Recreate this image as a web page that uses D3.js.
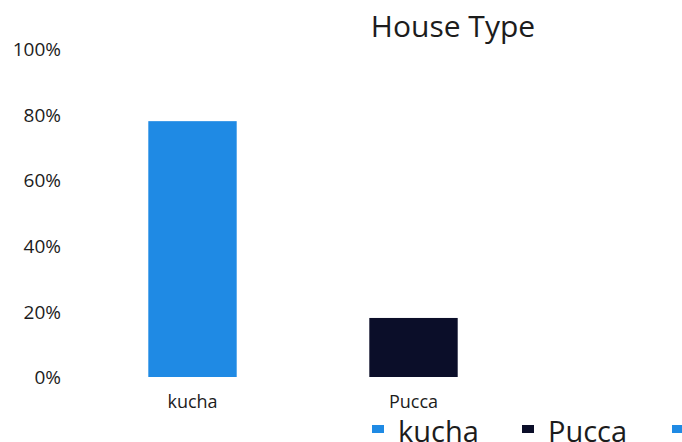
<!DOCTYPE html>
<html>
<head>
<meta charset="utf-8">
<script src="https://cdn.jsdelivr.net/npm/d3@7"></script>
<style>
  html, body { margin: 0; padding: 0; background: #ffffff; }
  svg { display: block; }
  text { font-family: "Open Sans", "Noto Sans", sans-serif; fill: #1c1c1c; }
</style>
</head>
<body>
<svg id="chart" width="682" height="442"></svg>
<script>
// House type shares
const categories = ["kucha", "Pucca"];
const shares = [0.78, 0.18];
const barColors = ["#1f8ae4", "#0b0e29"];
const yTicks = [0, 0.2, 0.4, 0.6, 0.8, 1.0];
const legendLabels = ["kucha", "Pucca", "Semi-pucca"];
const legendColors = ["#1f8ae4", "#0b0e29", "#1f8ae4"];
const title = "House Type";

const svg = d3.select("#chart");
const W = 682, H = 442;

svg.append("rect").attr("width", W).attr("height", H).attr("fill", "#ffffff");

const x = d3.scaleBand()
  .domain(categories)
  .range([82, 524])
  .paddingInner(0.6)
  .paddingOuter(0.3);

const y = d3.scaleLinear().domain([0, 1]).range([377, 49]);

// Title
svg.append("text")
  .attr("x", 453).attr("y", 37)
  .attr("text-anchor", "middle")
  .style("font-size", "30px")
  .text(title);

// Y axis: labels only
const yAxis = svg.append("g")
  .attr("transform", "translate(61,0)")
  .call(d3.axisLeft(y).tickValues(yTicks).tickFormat(d3.format(".0%")).tickSize(0).tickPadding(0));
yAxis.select(".domain").remove();
yAxis.selectAll("text")
  .style("font-family", "\"Open Sans\", sans-serif")
  .style("font-size", "19px")
  .attr("fill", "#222")
  .attr("dy", "0.35em");

// Bars
svg.append("g").selectAll("rect")
  .data(categories)
  .join("rect")
  .attr("x", d => x(d))
  .attr("width", x.bandwidth())
  .attr("y", (d, i) => y(shares[i]))
  .attr("height", (d, i) => y(0) - y(shares[i]))
  .attr("fill", (d, i) => barColors[i]);

// X axis: category labels only
const xAxis = svg.append("g")
  .attr("transform", `translate(0,${y(0)})`)
  .call(d3.axisBottom(x).tickSize(0).tickPadding(18));
xAxis.select(".domain").remove();
xAxis.selectAll("text")
  .style("font-family", "\"Open Sans\", sans-serif")
  .style("font-size", "18px")
  .attr("fill", "#222");

// Legend (runs past the bottom/right edge)
const legend = svg.append("g").selectAll("g")
  .data(legendLabels)
  .join("g")
  .attr("transform", (d, i) => `translate(${372 + i * 150},0)`);
legend.append("rect")
  .attr("x", 0).attr("y", 425)
  .attr("width", 12).attr("height", 8)
  .attr("fill", (d, i) => legendColors[i]);
legend.append("text")
  .attr("x", 26).attr("y", 442)
  .style("font-size", "29px")
  .text(d => d);
</script>
</body>
</html>
